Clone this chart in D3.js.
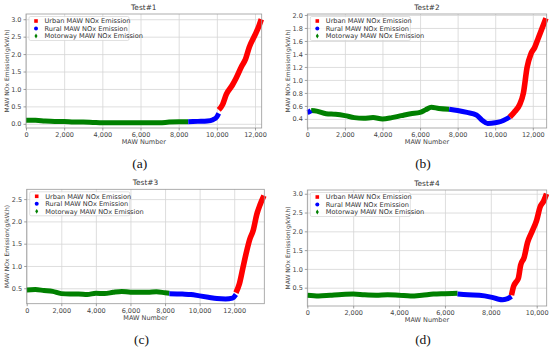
<!DOCTYPE html>
<html>
<head>
<meta charset="utf-8">
<script src="https://cdn.jsdelivr.net/npm/d3@7"></script>
<style>
  body { margin: 0; background: #fff; }
  svg { display: block; }
  .tick text { font-family: "DejaVu Sans", sans-serif; font-size: 6.5px; fill: #444; }
</style>
</head>
<body>
<div id="chart"></div>
<script>
// MAW NOx emission per test: [MAW number, g/kW.h]
const test1Motorway = [[0,0.10],[500,0.10],[1000,0.08],[1500,0.07],[2000,0.07],[2500,0.05],[3000,0.05],[3500,0.04],[4000,0.03],[4500,0.03],[5000,0.03],[5500,0.03],[6000,0.03],[6500,0.03],[7000,0.03],[7500,0.05],[8000,0.06],[8500,0.06]];
const test1Rural = [[8500,0.06],[9000,0.07],[9500,0.08],[9800,0.12],[10000,0.2],[10100,0.3]];
const test1Urban = [[10100,0.4],[10300,0.55],[10500,0.85],[10800,1.1],[11000,1.3],[11300,1.65],[11500,1.85],[11700,2.2],[12000,2.55],[12200,2.8],[12330,3.0]];

const test2Motorway = [[200,0.53],[500,0.52],[1000,0.48],[1500,0.47],[2000,0.45],[2500,0.42],[3000,0.41],[3500,0.42],[4000,0.40],[4500,0.42],[5000,0.45],[5500,0.48],[6000,0.50],[6300,0.54],[6600,0.58],[7000,0.56],[7550,0.55]];
const test2Rural = [[0,0.50],[100,0.51],[200,0.53],null,[7550,0.55],[8000,0.53],[8500,0.50],[9000,0.46],[9300,0.38],[9600,0.33],[10000,0.34],[10300,0.36],[10600,0.40],[10780,0.43]];
const test2Urban = [[10780,0.43],[11000,0.50],[11300,0.62],[11500,0.80],[11700,1.2],[11900,1.40],[12100,1.50],[12300,1.65],[12500,1.8],[12700,1.95]];

const test3Motorway = [[0,0.46],[500,0.47],[1000,0.45],[1500,0.43],[2000,0.38],[2500,0.37],[3000,0.37],[3500,0.36],[4000,0.39],[4500,0.38],[5000,0.41],[5500,0.43],[6000,0.41],[6500,0.41],[7000,0.41],[7500,0.42],[8000,0.40],[8250,0.39]];
const test3Rural = [[8250,0.38],[9000,0.37],[9500,0.36],[10000,0.33],[10500,0.30],[11000,0.27],[11500,0.26],[11900,0.28],[12100,0.36]];
const test3Urban = [[12100,0.40],[12300,0.6],[12500,0.95],[12700,1.3],[12900,1.6],[13100,1.8],[13300,2.15],[13500,2.38],[13720,2.58]];

const test4Motorway = [[0,0.30],[500,0.28],[1000,0.30],[1500,0.32],[2000,0.33],[2500,0.31],[3000,0.30],[3500,0.31],[4000,0.30],[4500,0.28],[5000,0.30],[5500,0.33],[6000,0.34],[6550,0.35]];
const test4Rural = [[6550,0.33],[7000,0.31],[7500,0.30],[8000,0.25],[8300,0.20],[8500,0.18],[8700,0.20],[8900,0.27]];
const test4Urban = [[8900,0.30],[9000,0.55],[9100,0.65],[9200,0.75],[9300,1.1],[9450,1.3],[9600,1.7],[9800,2.0],[10000,2.3],[10150,2.65],[10300,2.8],[10430,3.0]];

const seriesNames = ["Urban MAW NOx Emission", "Rural MAW NOx Emission", "Motorway MAW NOx Emission"];
const titles = ["Test#1", "Test#2", "Test#3", "Test#4"];
const captions = ["(a)", "(b)", "(c)", "(d)"];
const xTicks1 = [0, 2000, 4000, 6000, 8000, 10000, 12000];
const xTicks3 = [0, 2000, 4000, 6000, 8000, 10000, 12000];
const xTicks4 = [0, 2000, 4000, 6000, 8000, 10000];
const yTicks1 = [0, 0.5, 1, 1.5, 2, 2.5, 3];
const yTicks2 = [0.4, 0.6, 0.8, 1.0, 1.2, 1.4, 1.6, 1.8, 2.0];
const yTicks3 = [0.5, 1, 1.5, 2, 2.5];
const yTicks4 = [0.5, 1, 1.5, 2, 2.5, 3];

const colors = { urban: "#ff0000", rural: "#0000ff", motorway: "#008000" };

const panels = [
  { left: 26, right: 261.7, top: 14, bottom: 128, xMax: 12350, yDom: [-0.12, 3.15], xTicks: xTicks1, yTicks: yTicks1,
    urban: test1Urban, rural: test1Rural, motorway: test1Motorway, capY: 163 },
  { left: 307.3, right: 546.7, top: 14, bottom: 128, xMax: 12740, yDom: [0.26, 2.015], xTicks: xTicks1, yTicks: yTicks2,
    urban: test2Urban, rural: test2Rural, motorway: test2Motorway, capY: 163 },
  { left: 26.7, right: 264.3, top: 189.3, bottom: 303.7, xMax: 13740, yDom: [0.154, 2.72], xTicks: xTicks3, yTicks: yTicks3,
    urban: test3Urban, rural: test3Rural, motorway: test3Motorway, capY: 339 },
  { left: 307.3, right: 546.7, top: 190, bottom: 306, xMax: 10436, yDom: [0.013, 3.1], xTicks: xTicks4, yTicks: yTicks4,
    urban: test4Urban, rural: test4Rural, motorway: test4Motorway, capY: 339.5 }
];

const svg = d3.select("#chart").append("svg")
  .attr("width", 550)
  .attr("height", 352);

panels.forEach((p, i) => drawPanel(p, i));

function drawPanel(p, i) {
  const w = p.right - p.left, h = p.bottom - p.top;
  const x = d3.scaleLinear().domain([0, p.xMax]).range([0, w]);
  const y = d3.scaleLinear().domain(p.yDom).range([h, 0]);
  const g = svg.append("g").attr("transform", `translate(${p.left},${p.top})`);

  // grid
  g.append("g").attr("class", "grid")
    .attr("transform", `translate(0,${h})`)
    .call(d3.axisBottom(x).tickValues(p.xTicks).tickSize(-h).tickFormat(""));
  g.append("g").attr("class", "grid")
    .call(d3.axisLeft(y).tickValues(p.yTicks).tickSize(-w).tickFormat(""));
  g.selectAll(".grid .tick line").attr("stroke", "#d6d6d6").attr("stroke-width", 0.8);
  g.selectAll(".grid .domain").remove();

  // series as thick marker bands
  const line = d3.line()
    .defined(d => d !== null)
    .x(d => x(d[0]))
    .y(d => y(d[1]))
    .curve(d3.curveMonotoneX);
  [["motorway", p.motorway], ["rural", p.rural], ["urban", p.urban]].forEach(([k, data]) => {
    g.append("path")
      .datum(data)
      .attr("d", line)
      .attr("fill", "none")
      .attr("stroke", colors[k])
      .attr("stroke-width", k === "urban" ? 5.6 : 5)
      .attr("stroke-linejoin", "round");
  });

  // frame
  g.append("rect").attr("width", w).attr("height", h)
    .attr("fill", "none").attr("stroke", "#999").attr("stroke-width", 0.8);

  // axes
  const xa = g.append("g").attr("transform", `translate(0,${h})`)
    .call(d3.axisBottom(x).tickValues(p.xTicks).tickSize(2.5).tickPadding(2).tickFormat(d3.format(",")));
  const ya = g.append("g")
    .call(d3.axisLeft(y).tickValues(p.yTicks).tickSize(2.5).tickPadding(2).tickFormat(d3.format(".1f")));
  [xa, ya].forEach(a => {
    a.select(".domain").remove();
    a.selectAll(".tick line").attr("stroke", "#777").attr("stroke-width", 0.7);
  });

  // title & labels
  g.append("text").attr("x", w / 2).attr("y", -4.5)
    .attr("text-anchor", "middle")
    .style("font-family", "DejaVu Sans").style("font-size", "7.4px").style("fill", "#333")
    .text(titles[i]);
  g.append("text").attr("x", w / 2).attr("y", h + 16)
    .attr("text-anchor", "middle")
    .style("font-family", "DejaVu Sans").style("font-size", "6.5px").style("fill", "#444")
    .text("MAW Number");
  g.append("text")
    .attr("transform", `translate(-17.5,${h / 2}) rotate(-90)`)
    .attr("text-anchor", "middle")
    .style("font-family", "DejaVu Sans").style("font-size", "6px").style("fill", "#444")
    .text("MAW NOx Emission(g/kW.h)");

  // legend
  const lg = g.append("g").attr("transform", "translate(3,2.5)");
  lg.append("rect").attr("width", 100).attr("height", 24).attr("rx", 1.5)
    .attr("fill", "#fff").attr("fill-opacity", 0.85)
    .attr("stroke", "#ccc").attr("stroke-width", 0.6);
  const keys = ["urban", "rural", "motorway"];
  keys.forEach((k, j) => {
    const cy = 4.5 + j * 7.5, cx = 7;
    if (k === "urban") {
      lg.append("rect").attr("x", cx - 1.8).attr("y", cy - 1.8).attr("width", 3.6).attr("height", 3.6).attr("fill", colors[k]);
    } else if (k === "rural") {
      lg.append("circle").attr("cx", cx).attr("cy", cy).attr("r", 2).attr("fill", colors[k]);
    } else {
      lg.append("path").attr("d", `M${cx},${cy - 2.4}L${cx + 1.5},${cy}L${cx},${cy + 2.4}L${cx - 1.5},${cy}Z`).attr("fill", colors[k]);
    }
    lg.append("text").attr("x", 15.5).attr("y", cy).attr("dy", "0.35em")
      .style("font-family", "DejaVu Sans").style("font-size", "6.6px").style("fill", "#333")
      .text(seriesNames[j]);
  });

  // caption
  svg.append("text")
    .attr("x", (p.left + p.right) / 2 - 4).attr("y", p.capY).attr("dy", "0.35em")
    .attr("text-anchor", "middle")
    .style("font-family", "Liberation Serif, serif").style("font-size", "13.5px").style("fill", "#111")
    .text(captions[i]);
}
</script>
</body>
</html>
